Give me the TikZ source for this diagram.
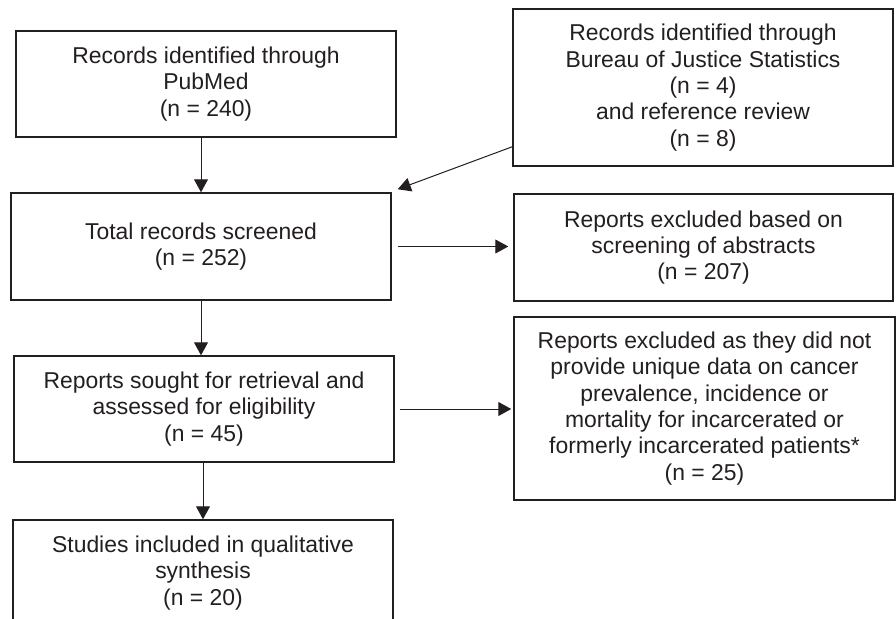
\documentclass[tikz,border=0pt]{standalone}
\usepackage{fontspec}
\setmainfont{Liberation Sans}
\usetikzlibrary{arrows.meta,calc}
\definecolor{ink}{HTML}{231F20}
\begin{document}
\begin{tikzpicture}[x=1pt,y=-1pt,
  box/.style={draw=ink, line width=1.5pt, text=ink, align=center, inner sep=0pt,
    font=\fontsize{22.9}{26.3}\selectfont},
  arr/.style={draw=ink, line width=1pt, -{Triangle[length=13pt,width=14pt]}}]
\clip (0,0) rectangle (896,618);
\fill[white] (0,0) rectangle (896,618);
\node[box, minimum width=380pt, minimum height=106pt] (A) at (206,84)
  {Records identified through\\PubMed\\(n = 240)};
\node[box, minimum width=380pt, minimum height=157pt] (B) at (703,87.5)
  {Records identified through\\Bureau of Justice Statistics\\(n = 4)\\and reference review\\(n = 8)};
\node[box, minimum width=380pt, minimum height=107pt] (C) at (201,246.5)
  {Total records screened\\(n = 252)};
\node[box, minimum width=379pt, minimum height=107pt] (D) at (703.5,247.5)
  {Reports excluded based on\\screening of abstracts\\(n = 207)};
\node[box, minimum width=380pt, minimum height=106pt] (E) at (204,409)
  {Reports sought for retrieval and\\assessed for eligibility\\(n = 45)};
\node[box, minimum width=381pt, minimum height=183pt] (F) at (704.5,408.5)
  {Reports excluded as they did not\\provide unique data on cancer\\prevalence, incidence or\\mortality for incarcerated or\\formerly incarcerated patients*\\(n = 25)};
\node[box, minimum width=380pt, minimum height=106pt] (G) at (203,573)
  {Studies included in qualitative\\synthesis\\(n = 20)};
\coordinate (Bout) at ($(B.south west)+(0,-20)$);
\coordinate (Cin) at ($(C.north east)+(6,-3)$);
\draw[arr] (A.south -| C.north) -- (C.north);
\draw[arr] (Bout) -- (Cin);
\draw[arr, shorten <=6pt, shorten >=5pt] (C.east) -- (D.west |- C.east);
\draw[arr] (C.south) -- (E.north -| C.south);
\draw[arr, shorten <=5pt, shorten >=2pt] (E.east) -- (F.west |- E.east);
\draw[arr] (E.south -| G.north) -- (G.north);
\end{tikzpicture}
\end{document}
